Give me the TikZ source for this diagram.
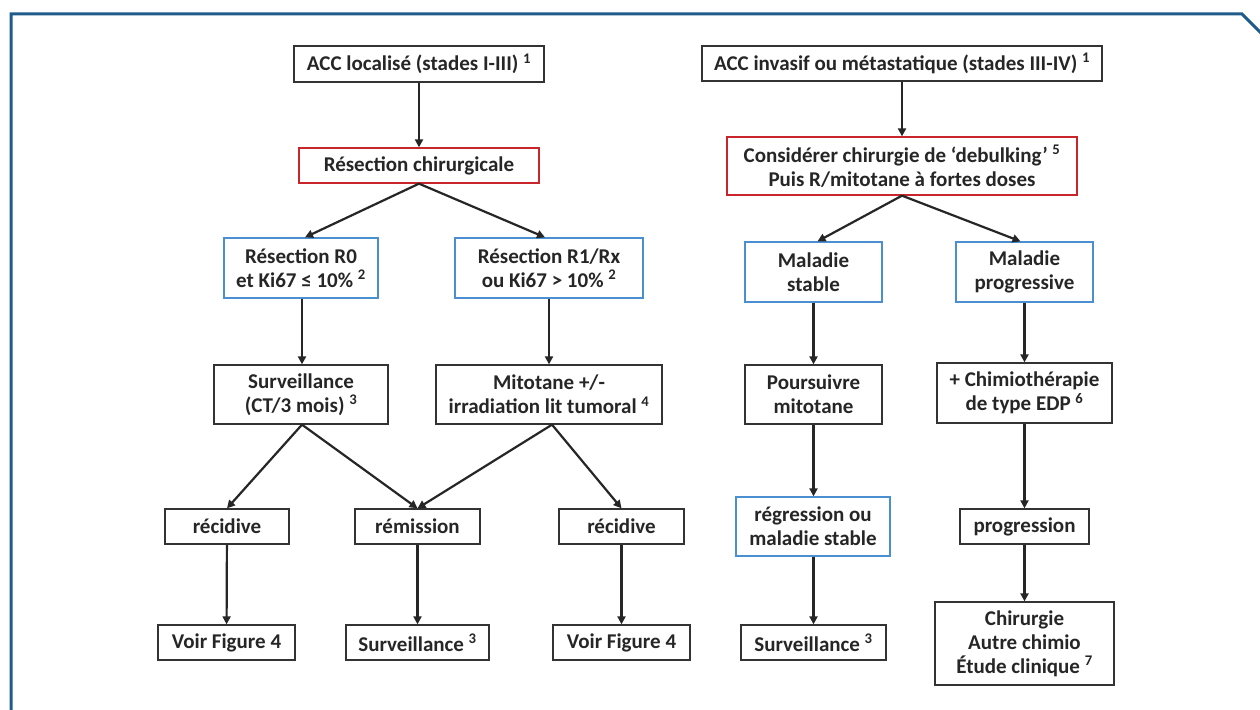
\documentclass[tikz,border=0pt]{standalone}
\usepackage{fontspec}
\setmainfont{Carlito}
\usetikzlibrary{arrows.meta}
\definecolor{frameblue}{HTML}{1F5C8C}
\definecolor{boxblue}{HTML}{4A90D0}
\definecolor{boxred}{HTML}{C8262C}
\definecolor{boxgray}{HTML}{333333}
\definecolor{txt}{HTML}{262626}
\newcommand\fnote[1]{\textsuperscript{#1}}
\tikzset{
  box/.style={draw=boxgray, line width=1.3pt, inner sep=0pt, align=center, text=txt,
    font=\fontsize{21}{24}\selectfont\bfseries},
  bluebox/.style={box, draw=boxblue},
  redbox/.style={box, draw=boxred},
  arr/.style={draw=txt, line width=2.2pt, -{Triangle[length=8pt,width=8pt]}},
}
\begin{document}
\begin{tikzpicture}[x=1pt,y=-1pt]
\useasboundingbox (0,0) rectangle (1260,709);
\fill[white] (0,0) rectangle (1260,709);
\draw[frameblue, line width=3pt] (11,712) -- (11,14) -- (1242,14) -- (1262,34);

% left branch
\node[box, minimum width=250, minimum height=36] (top1) at (419,64) {ACC localisé (stades I-III) \fnote{1}};
\node[redbox, minimum width=240, minimum height=35] (red1) at (419,165.5) {Résection chirurgicale};
\node[bluebox, minimum width=154, minimum height=60] (r0) at (301,268) {Résection R0\\et Ki67 ≤ 10\% \fnote{2}};
\node[bluebox, minimum width=188, minimum height=60] (r1) at (549,268) {Résection R1/Rx\\ou Ki67 > 10\% \fnote{2}};
\node[box, minimum width=174, minimum height=59] (surv) at (301,394.5) {Surveillance\\(CT/3 mois) \fnote{3}};
\node[box, minimum width=226, minimum height=59] (mito) at (549,394.5) {Mitotane +/-\\irradiation lit tumoral \fnote{4}};
\node[box, minimum width=124, minimum height=35] (rec1) at (227,526.5) {récidive};
\node[box, minimum width=125, minimum height=35] (rem) at (417.5,526.5) {rémission};
\node[box, minimum width=125, minimum height=35] (rec2) at (621.5,526.5) {récidive};
\node[box, minimum width=137, minimum height=35] (voir1) at (226.5,642.5) {Voir Figure 4};
\node[box, minimum width=143, minimum height=35] (surv2) at (417.5,642.5) {Surveillance \fnote{3}};
\node[box, minimum width=137, minimum height=35] (voir2) at (621.5,642.5) {Voir Figure 4};

% right branch
\node[box, minimum width=400, minimum height=35] (top2) at (902,63.5) {ACC invasif ou métastatique (stades III-IV) \fnote{1}};
\node[redbox, minimum width=350, minimum height=58] (red2) at (902,166) {Considérer chirurgie de ‘debulking’ \fnote{5}\\Puis R/mitotane à fortes doses};
\node[bluebox, minimum width=137, minimum height=60] (ms) at (813.5,272) {Maladie\\stable};
\node[bluebox, minimum width=137, minimum height=60] (mp) at (1024.5,272) {Maladie\\progressive};
\node[box, minimum width=137, minimum height=59] (pm) at (813.5,394.5) {Poursuivre\\mitotane};
\node[box, minimum width=175, minimum height=60] (chim) at (1024.5,393) {+ Chimiothérapie\\de type EDP \fnote{6}};
\node[bluebox, minimum width=154, minimum height=59] (reg) at (813,526.5) {régression ou\\maladie stable};
\node[box, minimum width=129, minimum height=35] (prog) at (1024.5,526.5) {progression};
\node[box, minimum width=145, minimum height=35] (surv3) at (813.5,642.5) {Surveillance \fnote{3}};
\node[box, minimum width=179, minimum height=83] (chir) at (1024.5,643.5) {Chirurgie\\Autre chimio\\Étude clinique \fnote{7}};

% connectors left
\draw[arr] (top1) -- (red1);
\draw[arr] (red1.south) -- ([xshift=4pt]r0.north);
\draw[arr] (red1.south) -- ([xshift=-4pt]r1.north);
\draw[arr] ([xshift=1pt]r0.south) -- ([xshift=1pt]surv.north);
\draw[arr] (r1) -- (mito);
\draw[arr] ([xshift=1pt]surv.south) -- (rec1.north);
\draw[arr] ([xshift=1pt]surv.south) -- (rem.north);
\draw[arr] ([xshift=3pt]mito.south) -- (rem.north);
\draw[arr] ([xshift=3pt]mito.south) -- (rec2.north);
\draw[arr] (rec1) -- (voir1);
\draw[arr] (rem) -- (surv2);
\draw[arr] (rec2) -- (voir2);

% connectors right
\draw[arr] (top2) -- (red2);
\draw[arr] (red2.south) -- ([xshift=4pt]ms.north);
\draw[arr] (red2.south) -- ([xshift=-4pt]mp.north);
\draw[arr] (ms) -- (pm);
\draw[arr] (pm.south) -- (pm.south |- reg.north);
\draw[arr] (reg.south -| surv3.north) -- (surv3.north);
\draw[arr] (mp) -- (chim);
\draw[arr] (chim) -- (prog);
\draw[arr] (prog) -- (chir);
\end{tikzpicture}
\end{document}
